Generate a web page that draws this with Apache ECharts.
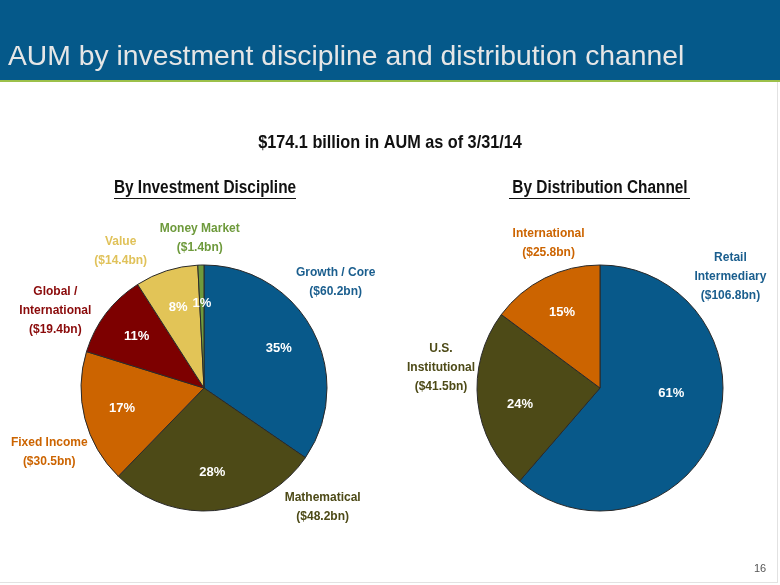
<!DOCTYPE html>
<html>
<head>
<meta charset="utf-8">
<title>AUM by investment discipline and distribution channel</title>
<script src="https://cdn.jsdelivr.net/npm/echarts@6/dist/echarts.min.js"></script>
<style>
  html, body { margin: 0; padding: 0; background: #fff; }
  #chart { width: 780px; height: 585px; }
</style>
</head>
<body>
<div id="chart"></div>
<script>
// AUM by investment discipline, $bn
const disciplineNames = ["Growth / Core", "Mathematical", "Fixed Income", "Global /\nInternational", "Value", "Money Market"]
const disciplineValues = [60.2, 48.2, 30.5, 19.4, 14.4, 1.4]

// AUM by distribution channel, $bn
const channelNames = ["Retail\nIntermediary", "U.S.\nInstitutional", "International"]
const channelValues = [106.8, 41.5, 25.8]

// styling
const disciplineColors = ["#08598A", "#4D4A17", "#CC6400", "#7D0000", "#E2C457", "#6E9A3C"]
const disciplineLabelColors = ["#1A5E8E", "#4D4A17", "#CC6400", "#8A0A0A", "#E0C25A", "#6E9A3C"]
const channelColors = ["#08598A", "#4D4A17", "#CC6400"]
const channelLabelColors = ["#1A5E8E", "#4D4A17", "#CC6400"]
// nudge of the outside name labels away from the slice mid-angle
const disciplineNudge = [[-17, -28], [102, -48], [8, 23], [-15, 24], [-32, 23], [0, 18]]
const channelNudge = [[-27, -170], [8, -39], [24, 5]]
const pctNudge = { channel: [[-8, -24], [4, 7], [0, 0]] }

// no Arial Narrow here: draw Liberation Sans bold squeezed horizontally
const ARIAL = "'Liberation Sans', Arial, sans-serif"
const NARROW_SCALE = 0.855
const R = 123

function pieSeries (names, values, colors, center) {
  return {
    type: "pie",
    center: center,
    radius: [0, R],
    startAngle: 90,
    clockwise: true,
    silent: true,
    label: { show: false },
    labelLine: { show: false },
    itemStyle: { borderColor: "#2a2a2a", borderWidth: 1 },
    data: values.map((v, i) => ({ name: names[i], value: v, itemStyle: { color: colors[i] } }))
  }
}

// transparent ring that only carries the percentage labels
function pctSeries (names, values, center, nudge) {
  return {
    type: "pie",
    center: center,
    radius: [40, R],
    startAngle: 90,
    silent: true,
    percentPrecision: 0,
    itemStyle: { color: "transparent", borderWidth: 0 },
    label: {
      show: true,
      position: "inside",
      color: "#fff",
      fontFamily: ARIAL,
      fontWeight: "bold",
      fontSize: 13,
      formatter: p => p.percent + "%"
    },
    labelLayout: p => nudge ? { dx: nudge[p.dataIndex][0], dy: nudge[p.dataIndex][1] } : {},
    data: values.map((v, i) => ({ name: names[i], value: v }))
  }
}

// transparent outer ring that carries the name labels
function nameSeries (names, values, labelColors, center, nudge) {
  return {
    type: "pie",
    center: center,
    radius: [R, 207],
    startAngle: 90,
    silent: true,
    itemStyle: { color: "transparent", borderWidth: 0 },
    label: {
      show: true,
      position: "inside",
      fontFamily: ARIAL,
      fontWeight: "bold",
      fontSize: 12,
      lineHeight: 19,
      align: "center",
      formatter: p => p.name + "\n($" + p.value.toFixed(1) + "bn)"
    },
    labelLayout: p => ({ dx: nudge[p.dataIndex][0], dy: nudge[p.dataIndex][1] }),
    data: values.map((v, i) => ({ name: names[i], value: v, label: { color: labelColors[i] } }))
  }
}

function narrowText (text, x, y, size) {
  return {
    type: "text", x: x, y: y, scaleX: NARROW_SCALE,
    style: { text: text, fill: "#111", font: "bold " + size + "px " + ARIAL, align: "center", verticalAlign: "middle" }
  }
}

const chart = echarts.init(document.getElementById("chart"), null, { renderer: "canvas" })

const leftCenter = [204, 388]
const rightCenter = [600, 388]

chart.setOption({
  animation: false,
  backgroundColor: "#fff",
  graphic: [
    { type: "rect", shape: { x: 0, y: 0, width: 780, height: 80 }, style: { fill: "#05598A" }, z: -1 },
    { type: "rect", shape: { x: 0, y: 80, width: 780, height: 2 }, style: { fill: "#9CC04A" }, z: -1 },
    { type: "line", shape: { x1: 777.5, y1: 82, x2: 777.5, y2: 583 }, style: { stroke: "#e2e2e2", lineWidth: 1 }, z: -1 },
    { type: "line", shape: { x1: 0, y1: 582.5, x2: 778, y2: 582.5 }, style: { stroke: "#e2e2e2", lineWidth: 1 }, z: -1 },
    {
      type: "text", x: 8, y: 57,
      style: { text: "AUM by investment discipline and distribution channel", fill: "#E6E6E6", font: "28.3px " + ARIAL, verticalAlign: "middle" }
    },
    narrowText("$174.1 billion in AUM as of 3/31/14", 390, 143, 19),
    narrowText("By Investment Discipline", 205, 188, 18),
    { type: "line", shape: { x1: 114, y1: 198.5, x2: 296, y2: 198.5 }, style: { stroke: "#111", lineWidth: 1 } },
    narrowText("By Distribution Channel", 600, 188, 18),
    { type: "line", shape: { x1: 509, y1: 198.5, x2: 690, y2: 198.5 }, style: { stroke: "#111", lineWidth: 1 } },
    {
      type: "text", x: 760, y: 569,
      style: { text: "16", fill: "#555", font: "11px " + ARIAL, align: "center", verticalAlign: "middle" }
    }
  ],
  series: [
    pieSeries(disciplineNames, disciplineValues, disciplineColors, leftCenter),
    pctSeries(disciplineNames, disciplineValues, leftCenter, null),
    nameSeries(disciplineNames, disciplineValues, disciplineLabelColors, leftCenter, disciplineNudge),
    pieSeries(channelNames, channelValues, channelColors, rightCenter),
    pctSeries(channelNames, channelValues, rightCenter, pctNudge.channel),
    nameSeries(channelNames, channelValues, channelLabelColors, rightCenter, channelNudge)
  ]
})
</script>
</body>
</html>
